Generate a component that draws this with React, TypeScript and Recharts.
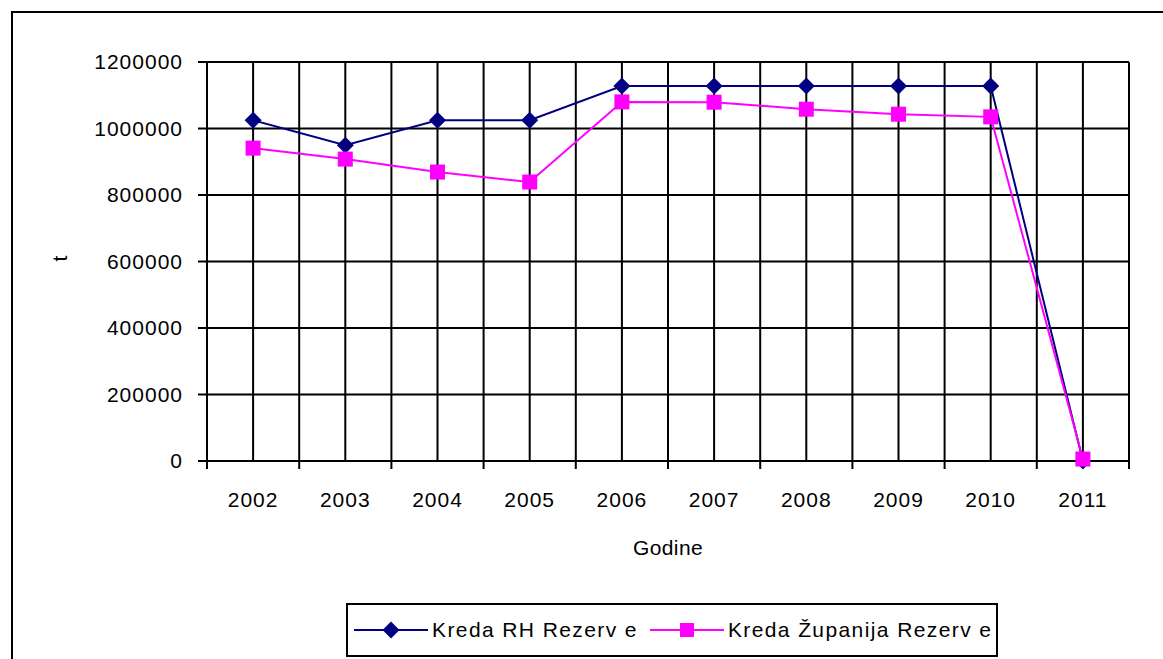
import React from "react";
import {
  CartesianGrid,
  Legend,
  Line,
  LineChart,
  XAxis,
  YAxis,
} from "recharts";

const years = ["2002", "2003", "2004", "2005", "2006", "2007", "2008", "2009", "2010", "2011"];
const rhReserves = [1025000, 950000, 1025000, 1025000, 1128000, 1128000, 1128000, 1128000, 1128000, 0];
const zupanijaReserves = [941000, 908000, 869000, 839000, 1080000, 1079000, 1058000, 1043000, 1035000, 6000];
const yTicks = [0, 200000, 400000, 600000, 800000, 1000000, 1200000];

const RH_NAME = "Kreda RH Rezerv e";
const ZUP_NAME = "Kreda Županija Rezerv e";
const RH_COLOR = "#000080";
const ZUP_COLOR = "#ff00ff";
const FONT = "'Liberation Sans', Arial, sans-serif";

const X_TICK_SIZE = 8;
const X_TICK_MARGIN = 23;

const data = years.map((year, i) => ({
  idx: i,
  year,
  rh: rhReserves[i],
  zup: zupanijaReserves[i],
}));

// boundaries between categories + category centres, like Excel's major/minor grid
const xTicks = years
  .flatMap((_, i) => [i - 0.5, i])
  .concat(years.length - 0.5);

const Diamond = ({ cx, cy, r = 8.5, fill }: { cx: number; cy: number; r?: number; fill: string }) => (
  <path d={`M${cx},${cy - r}L${cx + r},${cy}L${cx},${cy + r}L${cx - r},${cy}Z`} fill={fill} />
);

const Square = ({ cx, cy, s = 15, fill }: { cx: number; cy: number; s?: number; fill: string }) => (
  <rect x={cx - s / 2} y={cy - s / 2} width={s} height={s} fill={fill} />
);

function YearTick(props: any) {
  const { x, y, payload } = props;
  const v = payload.value;
  if (Number.isInteger(v)) {
    return (
      <text
        x={x}
        y={y}
        dy="0.71em"
        textAnchor="middle"
        fill="#000"
        style={{ fontFamily: FONT, fontSize: 21, letterSpacing: 1 }}
      >
        {years[v]}
      </text>
    );
  }
  const top = y - X_TICK_SIZE - X_TICK_MARGIN;
  return <line x1={x} x2={x} y1={top} y2={top + X_TICK_SIZE} stroke="#000" strokeWidth={2} />;
}

function LegendBox(props: any) {
  const items = props.payload ?? [];
  return (
    <div
      style={{
        boxSizing: "border-box",
        height: 54,
        border: "2px solid #000",
        display: "flex",
        alignItems: "center",
        paddingLeft: 6,
        fontFamily: FONT,
        fontSize: 21,
        letterSpacing: 1.4,
        color: "#000",
        background: "#fff",
        whiteSpace: "nowrap",
      }}
    >
      {items.map((item: any) => {
        const isRh = item.dataKey === "rh";
        return (
          <span key={item.value} style={{ display: "flex", alignItems: "center", marginRight: 12 }}>
            <svg width={74} height={20} style={{ marginRight: 4 }}>
              <line x1={0} x2={74} y1={10} y2={10} stroke={item.color} strokeWidth={2} />
              {isRh ? (
                <Diamond cx={37} cy={10} r={8.5} fill={item.color} />
              ) : (
                <Square cx={37} cy={10} s={14} fill={item.color} />
              )}
            </svg>
            {item.value}
          </span>
        );
      })}
    </div>
  );
}

export default function App() {
  return (
    <div
      style={{
        position: "fixed",
        left: 0,
        top: 0,
        width: 1163,
        height: 659,
        overflow: "hidden",
        background: "#fff",
      }}
    >
      <div
        style={{
          position: "absolute",
          left: 11,
          top: 11,
          width: 1200,
          height: 700,
          border: "2px solid #000",
        }}
      />
      <div style={{ position: "absolute", left: 0, top: 0 }}>
        <LineChart
          width={1163}
          height={659}
          data={data}
          margin={{ top: 62, right: 34, left: 0, bottom: 44 }}
        >
          <CartesianGrid stroke="#000" strokeWidth={2} />
          <XAxis
            dataKey="idx"
            type="number"
            domain={[-0.5, years.length - 0.5]}
            ticks={xTicks}
            interval={0}
            height={100}
            tickLine={false}
            tickSize={X_TICK_SIZE}
            tickMargin={X_TICK_MARGIN}
            tick={<YearTick />}
            axisLine={{ stroke: "#000", strokeWidth: 2 }}
            label={{
              value: "Godine",
              position: "insideBottom",
              offset: 6,
              fill: "#000",
              style: { fontFamily: FONT, fontSize: 21, letterSpacing: 0.4 },
            }}
          />
          <YAxis
            width={207}
            domain={[0, 1200000]}
            ticks={yTicks}
            interval={0}
            tickSize={9}
            tickMargin={15}
            tickLine={{ stroke: "#000", strokeWidth: 2 }}
            axisLine={{ stroke: "#000", strokeWidth: 2 }}
            tick={{ fill: "#000", fontFamily: FONT, fontSize: 21, letterSpacing: 1 }}
            label={{
              value: "t",
              angle: -90,
              position: "insideLeft",
              offset: 60,
              fill: "#000",
              style: { fontFamily: FONT, fontSize: 21 },
            }}
          />
          <Legend
            verticalAlign="bottom"
            content={<LegendBox />}
            wrapperStyle={{ left: 346, top: 603, width: 652, height: 54, bottom: undefined }}
          />
          <Line
            name={RH_NAME}
            dataKey="rh"
            type="linear"
            stroke={RH_COLOR}
            strokeWidth={2}
            isAnimationActive={false}
            dot={(p: any) => <Diamond key={`rh-${p.index}`} cx={p.cx} cy={p.cy} fill={RH_COLOR} />}
            activeDot={false}
          />
          <Line
            name={ZUP_NAME}
            dataKey="zup"
            type="linear"
            stroke={ZUP_COLOR}
            strokeWidth={2}
            isAnimationActive={false}
            dot={(p: any) => <Square key={`zup-${p.index}`} cx={p.cx} cy={p.cy} fill={ZUP_COLOR} />}
            activeDot={false}
          />
        </LineChart>
      </div>
    </div>
  );
}
